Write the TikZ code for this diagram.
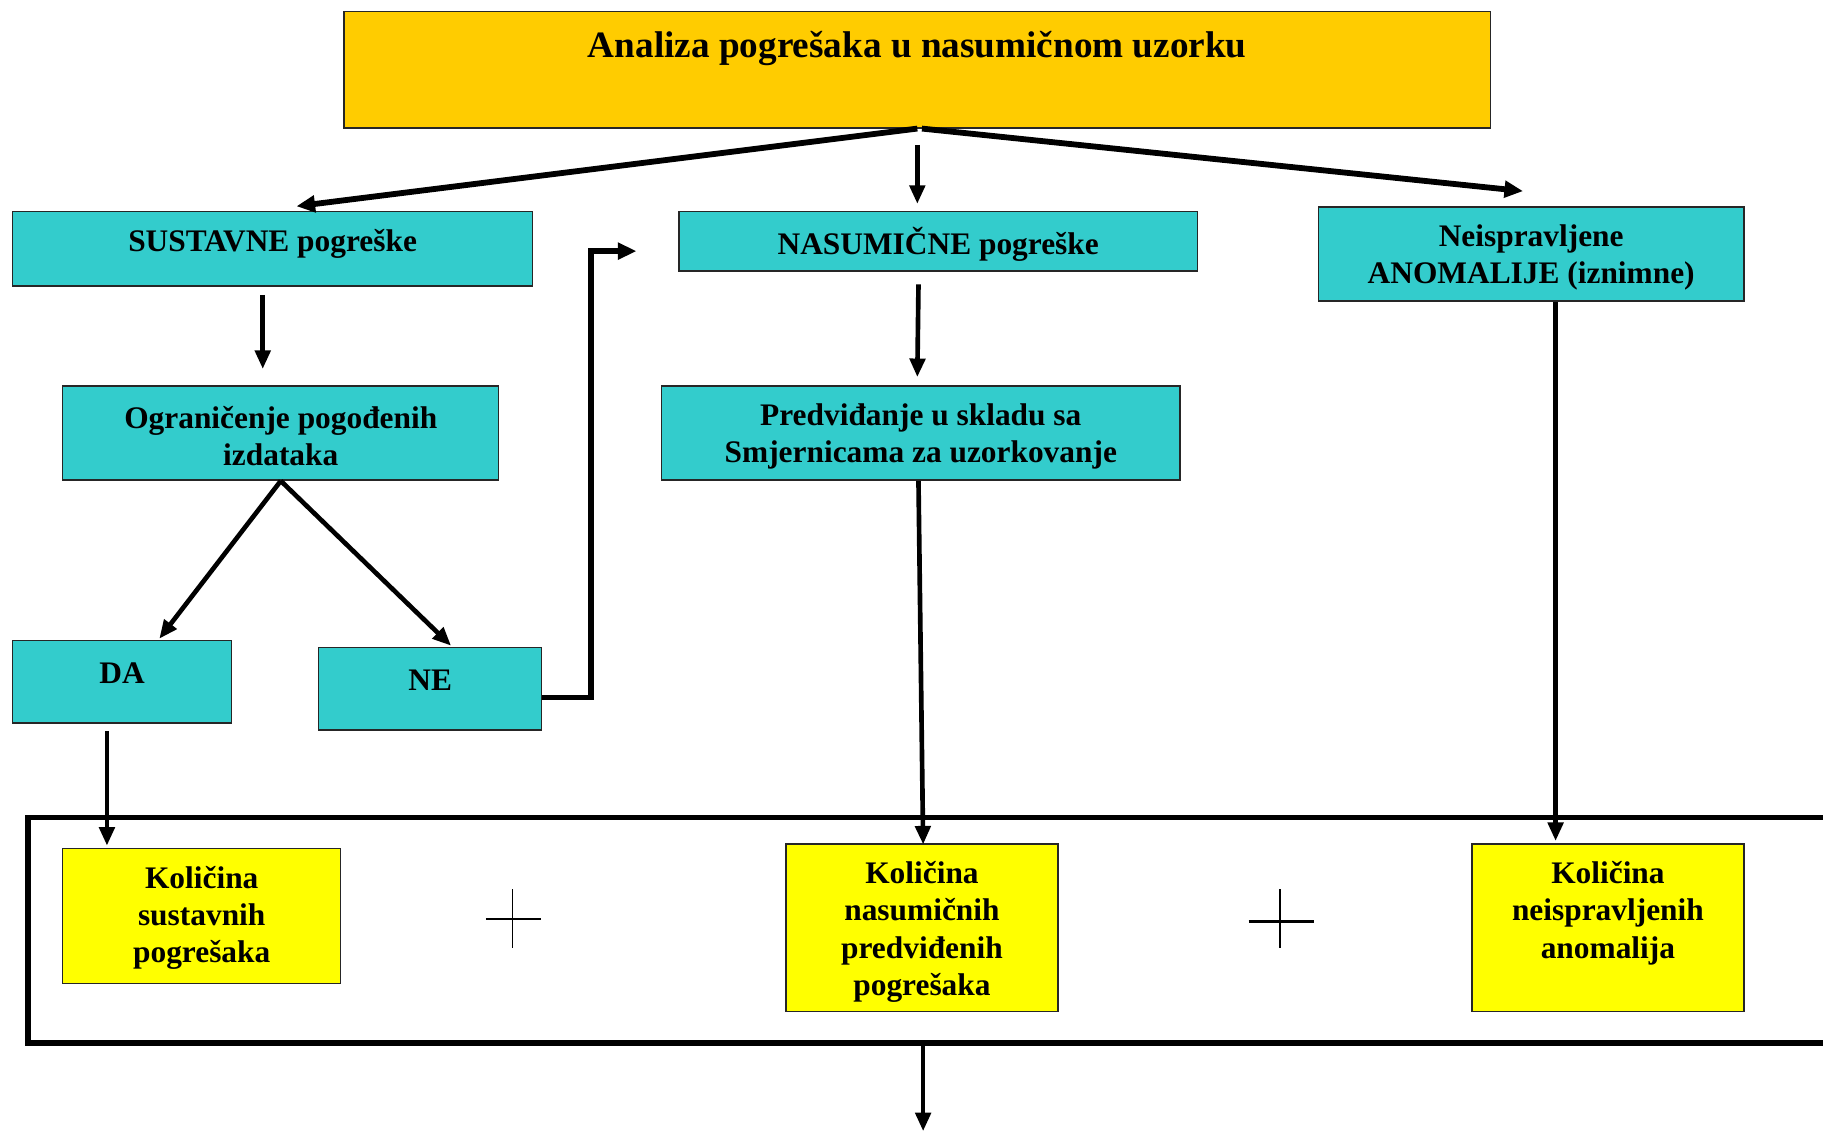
\documentclass[tikz,border=0pt]{standalone}
\usepackage{fontspec}
\setmainfont{Liberation Serif}
\usetikzlibrary{calc,arrows.meta}
\definecolor{topfill}{HTML}{FFCC00}
\definecolor{tealfill}{HTML}{33CCCC}
\definecolor{yelfill}{HTML}{FFFF00}
\begin{document}
\begin{tikzpicture}[x=0.5pt,y=-0.5pt,
  box/.style={draw=black!85,line width=0.6pt,inner sep=0pt},
  tbox/.style={box,fill=tealfill},
  ybox/.style={box,fill=yelfill},
  txt/.style={font=\fontsize{13.5}{16}\selectfont\bfseries,align=center,inner sep=0pt},
  arr/.style={line width=2.5pt,-{Triangle[length=8pt,width=7pt]}},
  arrt/.style={line width=2pt,-{Triangle[length=8pt,width=6.5pt]}},
  plusline/.style={line width=0.6pt}]
\clip (0,0) rectangle (1568,973);
\fill[white] (0,0) rectangle (1568,973);
% boxes
\node[box,fill=topfill,minimum width=493pt,minimum height=50pt] (top) at (789,60) {};
\node[txt,font=\fontsize{16}{19}\selectfont\bfseries] (toptxt) at (789,42) {Analiza pogrešaka u nasumičnom uzorku};
\node[tbox,minimum width=223.5pt,minimum height=32pt] (sust) at (234.5,214) {};
\node[txt] (susttxt) at (234.5,210) {SUSTAVNE pogreške};
\node[tbox,minimum width=223pt,minimum height=25.5pt] (nasum) at (807,207.5) {};
\node[txt] (nasumtxt) at (807,210) {NASUMIČNE pogreške};
\node[tbox,minimum width=183pt,minimum height=40.5pt] (neisp) at (1317,218.5) {};
\node[txt] (neisptxt) at (1317,221.5) {Neispravljene\\ANOMALIJE (iznimne)};
\node[tbox,minimum width=187.5pt,minimum height=40.5pt] (ogr) at (241.5,372.5) {};
\node[txt] (ogrtxt) at (241.5,375) {Ograničenje pogođenih\\izdataka};
\node[tbox,minimum width=223pt,minimum height=40.5pt] (pred) at (792,372.5) {};
\node[txt] (predtxt) at (792,375.5) {Predviđanje u skladu sa\\Smjernicama za uzorkovanje};
\node[tbox,minimum width=94pt,minimum height=35.5pt] (da) at (105,586.5) {};
\node[txt] (datxt) at (105,579) {DA};
\node[tbox,minimum width=96pt,minimum height=35.5pt] (ne) at (370,592.5) {};
\node[txt] (netxt) at (370,585) {NE};
% frame
\node[draw=black,line width=2.4pt,minimum width=788pt,minimum height=97pt,inner sep=0pt] (frame) at (812,800) {};
\node[ybox,minimum width=119.5pt,minimum height=58pt] (k1) at (173.5,788) {};
\node[txt] (k1txt) at (173.5,789.5) {Količina\\sustavnih\\pogrešaka};
\node[ybox,minimum width=117pt,minimum height=72pt] (k2) at (793,798) {};
\node[txt] (k2txt) at (793,801.5) {Količina\\nasumičnih\\predviđenih\\pogrešaka};
\node[ybox,minimum width=117pt,minimum height=72pt] (k3) at (1383,798) {};
\node[txt] (k3txt) at (1383,785.5) {Količina\\neispravljenih\\anomalija};
% plus signs
\draw[plusline] (441,765) -- (441,815);
\draw[plusline,line width=1pt] (418,790.5) -- (465,790.5);
\draw[plusline] (1101,765) -- (1101,815);
\draw[plusline,line width=1pt] (1074,792.5) -- (1130,792.5);
% connectors
\draw[arr] (top.south) -- ($(sust.north)+(20.5,-4)$);
\draw[arrt] ($(top.south)+(0,14)$) -- ($(nasum.north)+(-18,-6)$);
\draw[arr] ($(top.south)+(4,0)$) -- ($(neisp.north)+(-7,-13)$);
\draw[arrt] ($(sust.south)+(-8.5,7)$) -- ($(ogr.north)+(-15.5,-14)$);
\draw[arrt] ($(nasum.south)+(-17,11)$) -- ($(pred.north)+(-3,-7)$);
\draw[arrt] (ogr.south) -- ($(da.north)+(32,-1)$);
\draw[arrt] (ogr.south) -- ($(ne.north)+(18,-1)$);
\draw[arr] ($(ne.east)+(0,7.5)$) -- ++(42,0) |- ($(nasum.west)+(-36,8.5)$);
\draw[arrt] ($(da.south)+(-13,6)$) -- ($(k1.north)+(-81.5,-2)$);
\draw[arrt] ($(pred.south)+(-2,0)$) -- ($(k2.north)+(1,1)$);
\draw[arrt] ($(neisp.south)+(21,0)$) -- ($(k3.north)+(-45,-2)$);
\coordinate (out) at (794,973);
\draw[arrt] (frame.south -| out) -- (out);
\end{tikzpicture}
\end{document}
